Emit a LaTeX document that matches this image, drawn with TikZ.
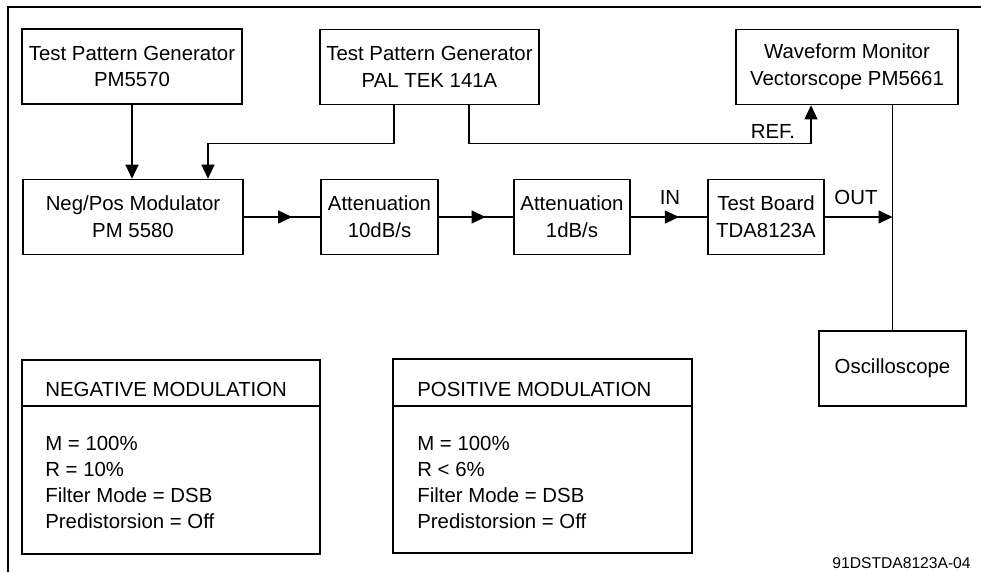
\documentclass[tikz,border=0pt]{standalone}
\usepackage{fontspec}
\setmainfont{Liberation Sans}
\usetikzlibrary{arrows.meta,decorations.markings}

\begin{document}
\begin{tikzpicture}[x=0.02cm,y=-0.02cm,>={Triangle[length=0.28cm,width=0.26cm]},
  blk/.style={draw,line width=0.9pt,inner sep=0pt,align=center,minimum height=1.5cm,font=\fontsize{11.6}{15.3}\selectfont},
  wire/.style={line width=0.6pt},
  midarrow/.style={wire,postaction={decorate},decoration={markings,mark=at position 0.63 with {\arrow{>}}}},
  lbl/.style={inner sep=0pt,font=\fontsize{11.6}{14.74}\selectfont}]
\useasboundingbox (0,0) rectangle (981,572);
% page frame (top and left only)
\draw[line width=0.9pt] (981,7) -- (8,7) -- (8,572);
% sources and monitor
\node[blk,minimum width=4.4cm] (tpgA) at (132,66.5) {Test Pattern Generator\\PM5570};
\node[blk,minimum width=4.38cm] (tpgB) at (429.5,67) {Test Pattern Generator\\PAL TEK 141A};
\node[blk,minimum width=4.44cm] (wfm) at (847,67) {Waveform Monitor\\Vectorscope PM5661};
% signal chain
\node[blk,minimum width=4.4cm] (mod) at (133,217) {Neg/Pos Modulator\\PM 5580};
\node[blk,minimum width=2.33cm] (attA) at (379.5,217) {Attenuation\\10dB/s};
\node[blk,minimum width=2.32cm] (attB) at (572,217) {Attenuation\\1dB/s};
\node[blk,minimum width=2.32cm] (tb) at (766,217) {Test Board\\TDA8123A};
\node[blk,minimum width=2.94cm] (osc) at (892.5,368.5) {Oscilloscope};
% connections
\draw[wire,->] (tpgA.south) -- (tpgA.south |- mod.north);
\draw[wire,->] ([xshift=-0.71cm]tpgB.south) -- ++(0,38) -| ([xshift=1.5cm]mod.north);
\draw[wire,->] ([xshift=0.79cm]tpgB.south) -- ++(0,38) -| ([xshift=-0.72cm]wfm.south);
\node[lbl] (ref) at (773,131) {REF.};
\draw[midarrow] (mod) -- (attA);
\draw[midarrow] (attA) -- (attB);
\draw[midarrow] (attB) -- (tb);
\node[lbl] (in) at (670,197) {IN};
\draw[wire] (osc.north) -- (osc.north |- wfm.south);
\draw[wire,->] (tb) -- (tb -| osc.north);
\node[lbl] (out) at (856,197) {OUT};
% modulation settings
\node[blk,minimum width=5.96cm,minimum height=3.88cm] (neg) at (171,457) {};
\draw[line width=0.9pt] (neg.west |- 0,406) -- (neg.east |- 0,406);
\node[lbl,anchor=west] (negT) at (45,389) {NEGATIVE MODULATION};
\node[lbl,anchor=north west,align=left] (negL) at (45,436) {M = 100\%\\R = 10\%\\Filter Mode = DSB\\Predistorsion = Off};
\node[blk,minimum width=5.98cm,minimum height=3.88cm] (pos) at (542.5,456) {};
\draw[line width=0.9pt] (pos.west |- 0,406) -- (pos.east |- 0,406);
\node[lbl,anchor=west] (posT) at (417,389) {POSITIVE MODULATION};
\node[lbl,anchor=north west,align=left] (posL) at (417,436) {M = 100\%\\R < 6\%\\Filter Mode = DSB\\Predistorsion = Off};
\node[inner sep=0pt,anchor=base east,font=\fontsize{8.9}{10}\selectfont] (fig) at (971,568) {91DSTDA8123A-04};
\end{tikzpicture}
\end{document}
